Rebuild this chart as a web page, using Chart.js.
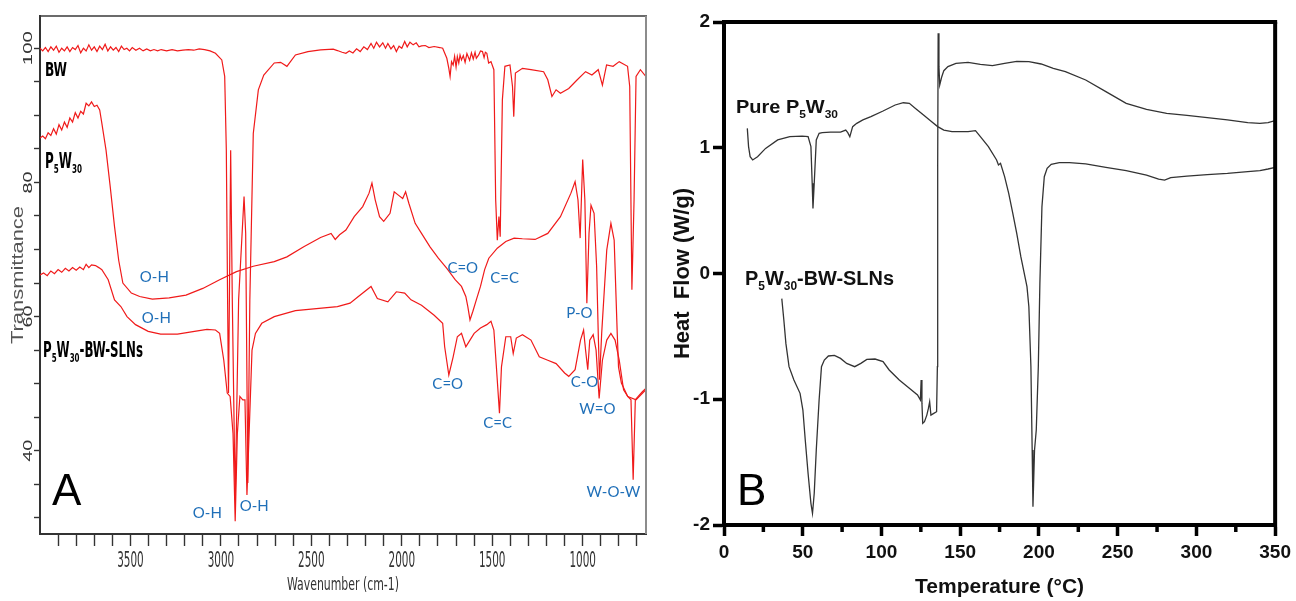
<!DOCTYPE html>
<html><head><meta charset="utf-8">
<script src="https://cdn.jsdelivr.net/npm/chart.js@4.4.1/dist/chart.umd.min.js"></script>
<style>
html,body{margin:0;padding:0;background:#fff;width:1296px;height:601px;overflow:hidden}
#a{position:absolute;left:0;top:0}
#b{position:absolute;left:660px;top:0}
</style></head><body>
<canvas id="a" width="660" height="601"></canvas>
<canvas id="b" width="636" height="601"></canvas>
<script>
// ---------- Panel A: FTIR data (wavenumber cm-1, transmittance %) ----------
const bwWn = [4000,3985,3970,3955,3940,3925,3910,3895,3880,3865,3850,3835,3820,3805,3790,3775,3760,3745,3730,3715,3700,3685,3670,3655,3640,3625,3610,3595,3580,3565,3550,3535,3520,3505,3490,3470,3450,3430,3410,3390,3370,3350,3330,3300,3270,3240,3210,3180,3150,3120,3090,3060,3030,2995,2979,2970,2963,2958,2953,2946,2937,2921,2902,2872,2863,2851,2840,2821,2793,2763,2705,2670,2635,2588,2519,2449,2379,2356,2330,2309,2290,2270,2250,2230,2210,2190,2170,2155,2140,2123,2105,2090,2077,2060,2045,2030,2015,2000,1984,1970,1955,1937,1920,1905,1891,1870,1850,1821,1790,1774,1751,1740,1733,1725,1716,1708,1700,1693,1685,1678,1670,1660,1650,1640,1625,1615,1605,1595,1588,1575,1565,1554,1545,1538,1530,1520,1507,1491,1481,1472,1463,1456,1444,1430,1402,1388,1381,1372,1333,1286,1216,1193,1170,1147,1123,1077,1030,984,949,914,891,868,832,798,752,740,728,716,705,681,651];
const bwT = [100.0,99.6,100.1,99.5,100.2,99.7,100.3,99.4,100.0,99.6,100.2,99.5,100.1,99.8,100.4,99.3,100.0,99.6,100.5,99.7,100.2,99.5,100.3,99.8,100.6,99.6,100.2,99.7,100.1,99.5,100.3,99.8,100.0,99.6,100.1,99.7,100.0,99.6,99.9,99.6,99.8,99.6,99.8,99.6,99.8,99.6,99.7,99.8,99.7,99.9,99.8,99.6,99.25,98.25,95.8,84.8,62.5,48.6,62.5,84.8,62.5,32.7,62.5,77.9,72.4,35.2,62.5,87.3,93.8,96.0,97.8,97.9,97.3,99.0,99.5,99.75,99.85,99.65,99.4,99.25,99.6,99.3,99.9,99.5,100.2,99.8,100.7,100.0,100.9,100.2,100.8,100.0,100.7,99.9,100.4,99.5,100.3,100.0,101.0,100.2,100.9,100.5,100.8,100.2,100.35,100.4,100.1,100.25,100.1,100.0,98.5,97.0,95.8,98.0,97.5,98.8,97.2,98.75,97.8,99.0,98.25,98.9,97.9,99.2,98.2,99.3,98.4,99.4,98.5,99.0,99.6,99.5,98.6,99.4,99.25,97.8,98.0,96.8,77.4,71.4,74.9,71.9,92.3,97.3,97.5,94.3,89.8,96.3,97.0,96.8,96.5,95.3,92.8,93.8,93.3,94.0,95.3,96.5,96.0,96.8,94.5,97.5,97.3,98.0,97.3,94.3,64.0,77.4,95.8,96.8,95.8];

const pwWn = [4000,3985,3970,3955,3940,3925,3910,3895,3880,3865,3850,3835,3820,3805,3790,3775,3760,3745,3730,3715,3700,3685,3670,3658,3635,3612,3588,3565,3542,3495,3449,3379,3286,3193,3100,3007,2914,2821,2705,2635,2542,2449,2391,2368,2344,2309,2263,2216,2181,2165,2147,2123,2100,2065,2042,2019,1995,1979,1961,1926,1891,1844,1798,1751,1705,1670,1646,1635,1623,1607,1588,1565,1542,1519,1472,1425,1379,1333,1263,1193,1123,1065,1042,1026,1014,1000,988,977,965,954,937,923,914,907,895,867,844,826,809,802,786,751,705,651];
const pwT = [86.6,86.9,86.5,87.4,87.0,88.0,87.2,88.6,87.8,89.0,88.2,89.6,89.0,90.4,89.6,90.6,90.2,91.8,91.4,92.0,91.3,91.5,90.8,88.8,84.8,79.4,73.4,68.4,65.0,63.5,63.0,62.6,62.8,63.2,64.2,65.5,66.7,67.5,68.2,68.9,70.4,71.8,72.4,71.5,72.2,72.9,74.9,76.4,78.4,79.9,77.4,74.9,74.2,75.4,78.6,78.1,77.6,78.6,76.9,73.9,72.4,70.4,68.7,67.2,65.5,64.5,63.0,61.5,59.5,60.8,62.5,64.5,67.0,68.7,70.2,71.2,71.7,71.6,71.5,72.4,74.9,78.4,80.1,77.4,71.7,83.4,77.4,62.0,72.4,76.6,75.4,67.5,57.5,50.6,57.5,69.9,73.9,71.4,57.5,52.5,50.1,48.1,47.6,49.1];

const slnWn = [4000,3980,3960,3940,3920,3900,3880,3860,3840,3820,3800,3780,3760,3745,3730,3715,3693,3675,3658,3623,3588,3553,3519,3472,3402,3333,3240,3146,3077,3030,3007,2984,2965,2949,2933,2921,2909,2895,2879,2867,2856,2844,2828,2809,2774,2705,2588,2472,2356,2286,2240,2170,2135,2077,2030,1984,1949,1891,1821,1774,1763,1740,1716,1693,1670,1646,1623,1600,1565,1530,1507,1491,1477,1460,1449,1425,1398,1384,1367,1333,1286,1240,1193,1147,1100,1077,1042,1012,995,984,972,961,942,926,909,891,867,844,821,798,774,751,733,721,709,693,670,651];
const slnT = [66.2,66.5,66.1,66.8,66.4,67.0,66.6,67.2,66.8,67.3,66.9,67.4,67.0,67.8,67.3,67.7,67.6,67.3,67.0,65.5,62.5,61.5,60.0,58.8,57.8,57.4,57.4,57.8,58.1,58.0,57.5,53.5,48.6,48.1,42.6,29.5,42.6,48.1,47.6,47.6,33.4,42.6,55.0,57.5,59.0,60.0,60.9,61.2,61.5,62.0,63.0,64.5,62.7,62.2,63.7,63.5,62.5,61.7,60.2,59.0,55.5,51.3,54.0,57.0,57.5,55.5,56.5,57.5,58.3,58.8,59.3,58.0,52.5,45.6,52.5,57.0,57.0,54.5,56.8,57.3,56.5,54.0,53.5,53.0,51.6,51.1,52.1,56.5,58.0,55.0,52.1,56.5,57.3,55.0,47.8,53.5,56.5,57.5,56.5,53.5,49.1,48.1,47.6,35.7,47.6,48.1,48.8,49.3];

const ftirXLabels = [3500, 3000, 2500, 2000, 1500, 1000];
const ftirYLabels = [100, 80, 60, 40];

// ---------- Panel B: DSC data (temperature °C, heat flow W/g) ----------
const pureTemp = [14.8,15.6,16.6,18.2,21.3,26.4,34.1,41.8,49.6,53.4,55.2,56.0,56.5,57.3,58.6,60.4,62.4,67.6,74.0,77.3,78.6,79.9,81.7,84.3,88.2,93.3,101.0,108.7,113.9,117.7,121.6,126.7,131.9,135.7,139.6,144.8,155.0,159.7,162.8,167.9,173.1,174.3,175.6,178.2,180.8,183.4,185.9,188.5,191.1,192.4,193.6,194.9,195.7,196.2,197.2,198.3,199.6,200.6,201.9,203.4,205.2,207.8,212.9,219.4,229.7,242.5,255.4,268.3,276.0,279.8,283.7,294.0,306.9,319.7,332.6,340.3,345.5,350.0];
const pureHF = [1.154,1.009,0.929,0.903,0.929,0.995,1.062,1.088,1.093,1.088,1.009,0.717,0.518,0.717,1.062,1.115,1.120,1.125,1.125,1.141,1.120,1.088,1.168,1.194,1.221,1.247,1.292,1.340,1.358,1.353,1.313,1.260,1.207,1.168,1.141,1.128,1.128,1.136,1.088,1.009,0.903,0.863,0.876,0.770,0.637,0.478,0.319,0.134,-0.025,-0.105,-0.264,-0.741,-1.404,-1.855,-1.404,-1.245,-0.741,-0.078,0.531,0.770,0.836,0.868,0.881,0.881,0.871,0.844,0.818,0.783,0.751,0.743,0.762,0.775,0.786,0.796,0.810,0.818,0.831,0.844];

const slnTemp = [36.7,38.0,39.3,41.3,44.4,48.3,50.1,51.6,53.4,55.2,56.2,57.3,58.6,60.4,61.9,63.7,66.3,70.1,74.0,77.9,83.0,86.9,90.7,95.9,101.0,104.9,111.3,117.7,122.9,124.7,125.2,125.7,126.2,127.3,128.8,129.8,130.6,131.4,133.2,135.0,135.5,135.7,136.0,136.5,137.0,138.3,139.6,142.2,147.3,155.0,162.8,170.5,178.2,185.9,193.6,201.4,209.1,216.8,229.7,242.5,255.4,268.3,281.1,294.0,306.9,319.7,332.6,340.3,345.5,350.0];
const slnHF = [-0.2,-0.370,-0.556,-0.741,-0.847,-0.953,-1.086,-1.324,-1.590,-1.828,-1.908,-1.748,-1.404,-1.006,-0.741,-0.688,-0.656,-0.651,-0.675,-0.715,-0.741,-0.715,-0.683,-0.680,-0.701,-0.767,-0.847,-0.913,-0.966,-1.006,-0.847,-1.033,-1.192,-1.179,-1.126,-1.073,-1.020,-1.126,-1.112,-1.099,-0.741,0.850,1.910,1.645,1.499,1.565,1.613,1.645,1.671,1.679,1.663,1.653,1.671,1.687,1.685,1.666,1.632,1.605,1.539,1.446,1.353,1.305,1.274,1.258,1.239,1.221,1.199,1.194,1.199,1.215];

// ---------- helpers ----------
const NARROW = "'Liberation Sans Narrow', 'DejaVu Sans Condensed', 'Liberation Sans', sans-serif";
const ARIAL = "'Liberation Sans', Arial, sans-serif";
const BLUEF = "Lato, 'Open Sans', sans-serif";
const pts = (xs, ys) => xs.map((x, i) => ({x, y: ys[i]}));
const rich = s => s.split(/(_\{[^}]*\})/).filter(Boolean).map(t => t.startsWith('_{') ? {t: t.slice(2, -1), sub: true} : {t});

function drawRich(ctx, str, x, y, o) {
  const parts = rich(str);
  const size = o.size, sub = size * 0.6;
  const fnt = s => `${o.weight || 'normal'} ${s}px ${o.family}`;
  ctx.save();
  let w = 0;
  const m = parts.map(p => { ctx.font = fnt(p.sub ? sub : size); const pw = ctx.measureText(p.t).width; w += pw; return pw; });
  const sx = o.width ? o.width / w : 1;
  ctx.translate(x, y);
  if (o.rot) ctx.rotate(o.rot);
  ctx.scale(sx, 1);
  let cx = o.align === 'center' ? -w / 2 : o.align === 'right' ? -w : 0;
  ctx.fillStyle = o.color || '#000';
  ctx.textAlign = 'left';
  ctx.textBaseline = o.baseline || 'alphabetic';
  parts.forEach((p, i) => { ctx.font = fnt(p.sub ? sub : size); ctx.fillText(p.t, cx, p.sub ? size * 0.24 : 0); cx += m[i]; });
  ctx.restore();
}

// ---------- Panel A ----------
const bandLabels = [
  {t: 'O-H', wn: 3368, T: 65.9}, {t: 'C=O', wn: 1663, T: 67.2}, {t: 'C=C', wn: 1431, T: 65.7},
  {t: 'O-H', wn: 3357, T: 59.8}, {t: 'P-O', wn: 1018, T: 60.5}, {t: 'C=O', wn: 1746, T: 49.9},
  {t: 'C-O', wn: 990, T: 50.2}, {t: 'W=O', wn: 919, T: 46.2}, {t: 'C=C', wn: 1470, T: 44.1},
  {t: 'O-H', wn: 3075, T: 30.7}, {t: 'O-H', wn: 2816, T: 31.7}, {t: 'W-O-W', wn: 830, T: 33.8}
];

const panelAPlugin = {
  id: 'panelA',
  afterDraw(chart) {
    const {ctx, chartArea: ca, scales: {x, y}} = chart;
    ctx.save();
    ctx.strokeStyle = '#3a3a3a'; ctx.lineWidth = 1.6;
    ctx.beginPath(); ctx.moveTo(ca.left, ca.top); ctx.lineTo(ca.right + 1, ca.top); ctx.stroke();
    ctx.strokeStyle = '#8c8c8c'; ctx.lineWidth = 2;
    ctx.beginPath(); ctx.moveTo(ca.right, ca.top); ctx.lineTo(ca.right, ca.bottom); ctx.stroke();
    ctx.restore();
    ftirXLabels.forEach(v => drawRich(ctx, String(v), x.getPixelForValue(v), 567,
      {size: 21, family: NARROW, width: 26.5, align: 'center', color: '#333'}));
    ftirYLabels.forEach(v => drawRich(ctx, String(v), 29, y.getPixelForValue(v),
      {size: 12, family: ARIAL, width: String(v).length === 3 ? 34 : 22, align: 'center', baseline: 'middle', rot: -Math.PI / 2, color: '#333'}));
    drawRich(ctx, 'Transmittance', 19, (ca.top + ca.bottom) / 2,
      {size: 16, family: ARIAL, width: 138, align: 'center', baseline: 'middle', rot: -Math.PI / 2, color: '#555'});
    drawRich(ctx, 'Wavenumber (cm-1)', (ca.left + ca.right) / 2, 590,
      {size: 17, family: NARROW, width: 112, align: 'center', color: '#333'});
    drawRich(ctx, 'BW', 45, 76, {size: 20, weight: 'bold', family: NARROW, width: 22});
    drawRich(ctx, 'P_{5}W_{30}', 45, 168, {size: 21, weight: 'bold', family: NARROW, width: 37});
    drawRich(ctx, 'P_{5}W_{30}-BW-SLNs', 43, 357, {size: 21, weight: 'bold', family: NARROW, width: 100});
    drawRich(ctx, 'A', 52, 505, {size: 44, family: ARIAL});
    bandLabels.forEach(b => drawRich(ctx, b.t, x.getPixelForValue(b.wn), y.getPixelForValue(b.T),
      {size: 15, family: BLUEF, align: 'center', baseline: 'middle', color: '#1f6fb8'}));
  }
};

const lineDs = (label, data, color, width) => ({label, data, borderColor: color, borderWidth: width,
  pointRadius: 0, fill: false, tension: 0});

new Chart(document.getElementById('a'), {
  type: 'line',
  data: {datasets: [
    lineDs('BW', pts(bwWn, bwT), '#f01a1a', 1.2),
    lineDs('P5W30', pts(pwWn, pwT), '#f01a1a', 1.2),
    lineDs('P5W30-BW-SLNs', pts(slnWn, slnT), '#f01a1a', 1.2)
  ]},
  options: {
    responsive: false, animation: false, devicePixelRatio: 1, events: [],
    layout: {padding: {left: 0, right: 14, top: 16, bottom: 0}},
    plugins: {legend: {display: false}, tooltip: {enabled: false}},
    scales: {
      x: {type: 'linear', reverse: true, min: 650, max: 4000,
        afterBuildTicks: s => { const t = []; for (let v = 700; v <= 3900; v += 100) t.push({value: v}); s.ticks = t; },
        afterFit: s => { s.height = 67; },
        ticks: {display: false},
        grid: {drawOnChartArea: false, tickLength: 12, tickWidth: 1.4, tickColor: '#333'},
        border: {display: true, color: '#333', width: 2}},
      y: {type: 'linear', min: 27.6, max: 104.8,
        afterBuildTicks: s => { const t = []; for (let v = 30; v <= 100; v += 5) t.push({value: v}); s.ticks = t; },
        afterFit: s => { s.width = 40; },
        ticks: {display: false},
        grid: {drawOnChartArea: false, tickLength: 6, tickWidth: 1.4, tickColor: '#333'},
        border: {display: true, color: '#333', width: 2}}
    }
  },
  plugins: [panelAPlugin]
});

// ---------- Panel B ----------
const panelBPlugin = {
  id: 'panelB',
  afterDraw(chart) {
    const {ctx, chartArea: ca, scales: {x}} = chart;
    ctx.save();
    ctx.strokeStyle = '#000'; ctx.lineWidth = 4;
    ctx.beginPath(); ctx.moveTo(ca.left - 2, ca.top); ctx.lineTo(ca.right + 2, ca.top); ctx.stroke();
    ctx.beginPath(); ctx.moveTo(ca.right, ca.top); ctx.lineTo(ca.right, ca.bottom + 2); ctx.stroke();
    ctx.lineWidth = 3.5;
    for (let v = 25; v < 350; v += 50) {
      const px = x.getPixelForValue(v);
      ctx.beginPath(); ctx.moveTo(px, ca.bottom); ctx.lineTo(px, ca.bottom + 7); ctx.stroke();
    }
    ctx.restore();
    drawRich(ctx, 'Pure P_{5}W_{30}', 76, 113, {size: 19, weight: 'bold', family: ARIAL, width: 102, color: '#111'});
    drawRich(ctx, 'P_{5}W_{30}-BW-SLNs', 85, 285, {size: 20, weight: 'bold', family: ARIAL, width: 149, color: '#111'});
    drawRich(ctx, 'B', 77, 505, {size: 44, family: ARIAL});
  }
};

const axisB = {
  grid: {drawOnChartArea: false, tickLength: 11, tickWidth: 3.5, tickColor: '#000'},
  border: {display: true, color: '#000', width: 4}
};

new Chart(document.getElementById('b'), {
  type: 'line',
  data: {datasets: [
    lineDs('Pure P5W30', pts(pureTemp, pureHF), '#333', 1.3),
    lineDs('P5W30-BW-SLNs', pts(slnTemp, slnHF), '#333', 1.3)
  ]},
  options: {
    responsive: false, animation: false, devicePixelRatio: 1, events: [],
    layout: {padding: {left: 0, right: 19, top: 22, bottom: 0}},
    plugins: {legend: {display: false}, tooltip: {enabled: false}},
    scales: {
      x: {type: 'linear', min: 0, max: 350, ...axisB,
        afterFit: s => { s.height = 76; },
        ticks: {stepSize: 50, padding: 5, color: '#111', font: {family: ARIAL, size: 19, weight: 'bold'}},
        title: {display: true, text: 'Temperature (°C)', color: '#111', padding: {top: 0, bottom: 1},
          font: {family: ARIAL, size: 21, weight: 'bold'}}},
      y: {type: 'linear', min: -2, max: 2, ...axisB,
        afterFit: s => { s.width = 64; },
        ticks: {stepSize: 1, padding: 3, color: '#111', font: {family: ARIAL, size: 19, weight: 'bold'}},
        title: {display: true, text: 'Heat  Flow (W/g)', color: '#111', padding: {top: 10, bottom: 0},
          font: {family: ARIAL, size: 22, weight: 'bold'}}}
    }
  },
  plugins: [panelBPlugin]
});
</script>
</body></html>
